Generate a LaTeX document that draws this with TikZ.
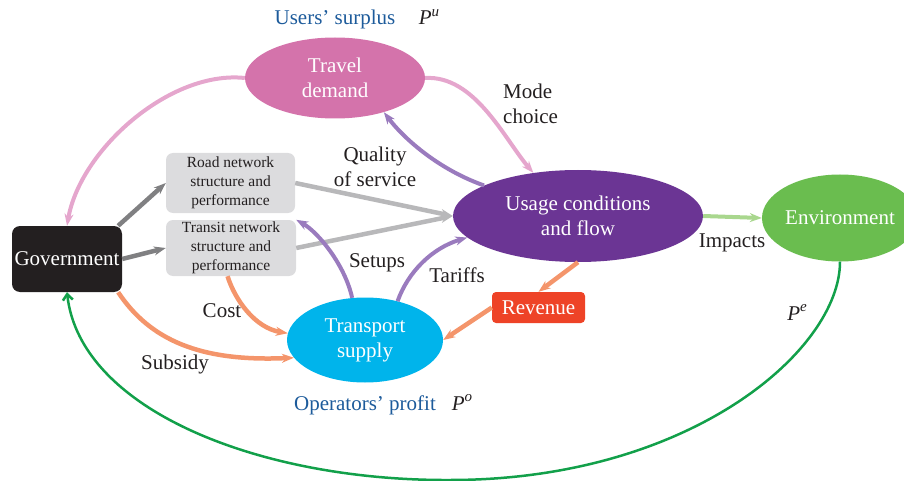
\documentclass[tikz,border=0pt]{standalone}
\usepackage{fontspec}
\setmainfont{Liberation Serif}
\usetikzlibrary{shapes.geometric,arrows.meta}
\definecolor{tdc}{HTML}{D473AB}
\definecolor{pinkl}{HTML}{E5A6CD}
\definecolor{usc}{HTML}{6B3594}
\definecolor{purl}{HTML}{9A7BBE}
\definecolor{envc}{HTML}{6ABD4F}
\definecolor{greenl}{HTML}{A9D78E}
\definecolor{greend}{HTML}{12A04A}
\definecolor{govc}{HTML}{231F20}
\definecolor{boxg}{HTML}{DCDCDE}
\definecolor{grayd}{HTML}{808082}
\definecolor{grayl}{HTML}{B8B8BA}
\definecolor{tsc}{HTML}{00B4EB}
\definecolor{revc}{HTML}{EE4327}
\definecolor{orl}{HTML}{F4956B}
\definecolor{bluet}{HTML}{1D5B9B}
\definecolor{txt}{HTML}{231F20}
\newcommand{\bigfs}{\fontsize{21pt}{25pt}\selectfont}
\newcommand{\smallfs}{\fontsize{15.5pt}{19pt}\selectfont}
\newcommand{\supfs}{\fontsize{15pt}{15pt}\selectfont}
\begin{document}
\begin{tikzpicture}[x=1pt,y=-1pt,
  ell/.style={ellipse, inner sep=0pt, text=white, align=center, font=\bigfs},
  sbox/.style={rectangle, inner sep=0pt, text=white, align=center, font=\bigfs},
  gbox/.style={rectangle, rounded corners=7pt, fill=boxg, inner sep=0pt, text=txt, align=center, font=\smallfs},
  lbl/.style={inner sep=0pt, text=txt, font=\bigfs},
  blbl/.style={inner sep=0pt, text=bluet, font=\bigfs},
  tip/.style={-{Stealth[length=12pt,width=9pt]}},
  pinkarr/.style={tip, draw=pinkl, line width=4pt},
  purarr/.style={tip, draw=purl, line width=4pt},
  dgray/.style={tip, draw=grayd, line width=4.5pt},
  lgray/.style={tip, draw=grayl, line width=4.5pt},
  oarr/.style={tip, draw=orl, line width=4.5pt},
  lgreen/.style={tip, draw=greenl, line width=4pt},
  dgreen/.style={-{Straight Barb[length=6pt,width=10pt]}, draw=greend, line width=2.5pt}
]
\useasboundingbox (0,0) rectangle (904,481);

% nodes
\node[ell, fill=tdc, minimum width=180pt, minimum height=81pt] (td) at (335,78) {Travel\\demand};
\node[ell, fill=usc, minimum width=250pt, minimum height=92pt] (us) at (578,216) {Usage conditions\\and flow};
\node[ell, fill=envc, minimum width=156pt, minimum height=87pt] (env) at (840,218) {Environment};
\node[ell, fill=tsc, minimum width=156pt, minimum height=85pt] (ts) at (365,340) {Transport\\supply};
\node[sbox, fill=govc, rounded corners=8pt, minimum width=110pt, minimum height=66pt] (gov) at (67,259) {Government};
\node[gbox, minimum width=129pt, minimum height=60pt] (road) at (230.5,183) {Road network\\structure and\\performance};
\node[gbox, minimum width=130pt, minimum height=56pt] (tr) at (231,248) {Transit network\\structure and\\performance};
\node[sbox, fill=revc, rounded corners=4pt, minimum width=93pt, minimum height=31pt] (rev) at (538.5,307.5) {Revenue};

% labels
\node[blbl, anchor=base] (lus) at (335,25) {Users' surplus};
\node[lbl, anchor=base] (lpu) at (429,25) {\itshape P\raisebox{0.42em}{\supfs u}};
\node[blbl, anchor=base] (lop) at (365,410) {Operators' profit};
\node[lbl, anchor=base] (lpo) at (462,410) {\itshape P\raisebox{0.42em}{\supfs o}};
\node[lbl, anchor=base] (lpe) at (797,320) {\itshape P\raisebox{0.42em}{\supfs e}};
\node[lbl, anchor=west, align=left] (lmode) at (503,103.5) {Mode\\choice};
\node[lbl, align=center] (lqual) at (375,166.5) {Quality\\of service};
\node[lbl, anchor=base] (lset) at (377,267) {Setups};
\node[lbl, anchor=base] (ltar) at (457,282) {Tariffs};
\node[lbl, anchor=base] (limp) at (732,247) {Impacts};
\node[lbl, anchor=base] (lcost) at (222,317) {Cost};
\node[lbl, anchor=base] (lsub) at (175,369) {Subsidy};

% connectors
\draw[pinkarr] (td.west) .. controls (170,70) and (80,150) .. (gov.north);
\draw[pinkarr] (td.east) .. controls (475,75) and (505,140) .. (us.136);
\draw[purarr] (us.162) .. controls (440,170) and (405,140) .. (td.325);
\draw[dgray] (gov.33) -- (road.west);
\draw[dgray] (gov.east) -- (tr.west);
\draw[lgray] (road.east) -- (us.west);
\draw[lgray] (tr.east) -- (us.west);
\draw[purarr] (ts.107) .. controls (345,265) and (318,232) .. (tr.north east);
\draw[purarr] (ts.50) .. controls (408,272) and (432,248) .. (us.191);
\draw[oarr] (us.south) -- (rev.north);
\draw[oarr] (rev.west) -- (ts.east);
\draw[oarr] (tr.263) .. controls (235,300) and (255,328) .. (ts.175);
\draw[oarr] (gov.327) .. controls (150,340) and (200,362) .. (ts.194);
\draw[lgreen] (us.east) -- (env.west);
\draw[dgreen] (env.south) .. controls (840,350) and (690,480) .. (450,480) .. controls (260,481) and (80,410) .. (gov.south);
\end{tikzpicture}
\end{document}
